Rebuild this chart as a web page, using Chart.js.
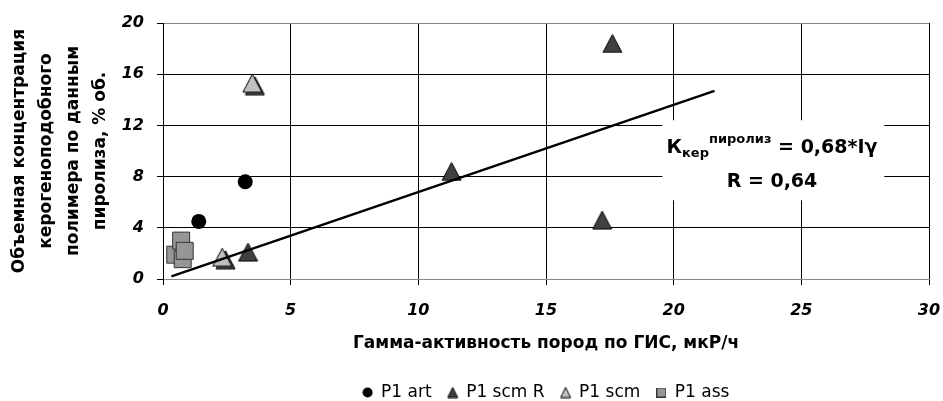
<!DOCTYPE html>
<html lang="ru">
<head>
<meta charset="UTF-8">
<title>Кероген и гамма-активность</title>
<style>
  body { margin: 0; background: #fff; }
  .wrap { width: 943px; height: 401px; }
</style>
<script src="https://cdn.jsdelivr.net/npm/chart.js"></script>
</head>
<body>
<div class="wrap"><canvas id="chart"></canvas></div>
<script>
// values
const seriesNames = ['P1 art', 'P1 scm R', 'P1 scm', 'P1 ass'];
const artX = [1.40, 3.22];
const artY = [4.5, 7.6];
const scmRX = [17.6, 11.3, 17.2, 3.33, 3.6, 2.45];
const scmRY = [18.4, 8.4, 4.6, 2.1, 15.1, 1.5];
const scmX = [3.5, 2.32];
const scmY = [15.3, 1.7];
const assX = [0.48, 0.71, 0.77, 0.85];
const assY = [1.9, 3.0, 1.55, 2.2];
const trendX = [0.33, 21.6];
const trendY = [0.2, 14.7];
const xTicks = [0, 5, 10, 15, 20, 25, 30];
const yTicks = [0, 4, 8, 12, 16, 20];

const FONT = 'DejaVu Sans';
const pts = (xs, ys) => xs.map((x, i) => ({ x: x, y: ys[i] }));

// excel-like markers, centred on their bounding box
function triangle(w, h, fill) {
    const c = document.createElement('canvas');
    c.width = w + 2; c.height = h + 2;
    const g = c.getContext('2d');
    g.beginPath();
    g.moveTo(c.width / 2, 1);
    g.lineTo(w + 1, h + 1);
    g.lineTo(1, h + 1);
    g.closePath();
    g.fillStyle = fill; g.fill();
    g.strokeStyle = '#000'; g.lineWidth = 1; g.stroke();
    return c;
}
function square(s, fill, stroke) {
    const c = document.createElement('canvas');
    c.width = s + 1; c.height = s + 1;
    const g = c.getContext('2d');
    g.fillStyle = fill; g.fillRect(0.5, 0.5, s, s);
    g.strokeStyle = stroke; g.lineWidth = 1; g.strokeRect(0.5, 0.5, s, s);
    return c;
}
function dot(d, fill) {
    const c = document.createElement('canvas');
    c.width = d + 1; c.height = d + 1;
    const g = c.getContext('2d');
    g.beginPath(); g.arc(c.width / 2, c.height / 2, d / 2, 0, Math.PI * 2);
    g.fillStyle = fill; g.fill();
    return c;
}

const darkTri = triangle(19, 18, '#404040');
const lightTri = triangle(19, 18, '#c0c0c0');
const legendMarks = [dot(10, '#000'), triangle(10, 10, '#404040'), triangle(10, 10, '#c0c0c0'), square(9, '#969696', '#333')];

// formula label with white background
const formulaBox = {
    id: 'formulaBox',
    afterDatasetsDraw(chart) {
        const { ctx, scales: { x, y } } = chart;
        const l = x.getPixelForValue(19.56), r = x.getPixelForValue(28.25);
        const t = y.getPixelForValue(12.4), b = y.getPixelForValue(6.15);
        ctx.save();
        ctx.fillStyle = '#fff';
        ctx.fillRect(l, t, r - l, b - t);
        ctx.fillStyle = '#000';
        ctx.textBaseline = 'alphabetic';
        const cx = x.getPixelForValue(23.85);
        const parts = [
            { t: 'К', s: 19, dy: 0 },
            { t: 'кер', s: 13, dy: 4 },
            { t: 'пиролиз', s: 13, dy: -10 },
            { t: ' = 0,68*Iγ', s: 19, dy: 0 }
        ];
        let total = 0;
        parts.forEach(p => { ctx.font = 'bold ' + p.s + 'px "' + FONT + '"'; p.w = ctx.measureText(p.t).width; total += p.w; });
        let px = cx - total / 2;
        const base1 = y.getPixelForValue(9.82);
        ctx.textAlign = 'left';
        parts.forEach(p => { ctx.font = 'bold ' + p.s + 'px "' + FONT + '"'; ctx.fillText(p.t, px, base1 + p.dy); px += p.w; });
        ctx.font = 'bold 19px "' + FONT + '"';
        ctx.textAlign = 'center';
        ctx.fillText('R = 0,64', cx, y.getPixelForValue(7.16));
        ctx.restore();
    }
};

const tickFont = { family: FONT, size: 16, weight: 'bold', style: 'italic' };

new Chart(document.getElementById('chart'), {
    type: 'scatter',
    data: {
        datasets: [
            { label: seriesNames[0], data: pts(artX, artY), pointStyle: 'circle', pointRadius: 7.5, pointHoverRadius: 7.5,
              backgroundColor: '#000', borderColor: '#000', borderWidth: 0, order: 1 },
            { label: seriesNames[1], data: pts(scmRX, scmRY), pointStyle: darkTri, order: 3 },
            { label: seriesNames[2], data: pts(scmX, scmY), pointStyle: lightTri, order: 2 },
            { label: seriesNames[3], data: pts(assX, assY), pointStyle: 'rect', pointRadius: 12, pointHoverRadius: 12,
              backgroundColor: '#969696', borderColor: '#333', borderWidth: 1, order: 2 },
            { type: 'line', label: 'trend', data: pts(trendX, trendY), borderColor: '#000', borderWidth: 2.5,
              pointRadius: 0, fill: false, order: 0 }
        ]
    },
    options: {
        responsive: true,
        maintainAspectRatio: false,
        animation: false,
        layout: { padding: { left: 0, top: 23, right: 0, bottom: -10 } },
        plugins: {
            tooltip: { enabled: false },
            legend: {
                position: 'bottom',
                fullSize: false,
                labels: {
                    usePointStyle: true,
                    boxWidth: 10,
                    boxHeight: 10,
                    padding: 16,
                    color: '#000',
                    font: { family: FONT, size: 17 },
                    generateLabels: () => seriesNames.map((name, i) => ({
                        text: name, pointStyle: legendMarks[i], fillStyle: '#000', strokeStyle: '#000',
                        lineWidth: 0, hidden: false, datasetIndex: i, fontColor: '#000'
                    }))
                }
            }
        },
        scales: {
            x: {
                type: 'linear', min: 0, max: 30,
                afterBuildTicks: s => { s.ticks = xTicks.map(v => ({ value: v })); },
                afterFit: s => { s.height = 89; s.paddingRight = 14; },
                grid: { color: '#000', tickColor: '#000', tickLength: 6 },
                border: { color: '#888' },
                ticks: { color: '#000', font: tickFont, padding: 16 },
                title: {
                    display: true, text: 'Гамма-активность пород по ГИС, мкР/ч', color: '#000',
                    font: { family: FONT, size: 17, weight: 'bold' }, padding: { top: 0, bottom: 14 }
                }
            },
            y: {
                type: 'linear', min: 0, max: 20,
                afterBuildTicks: s => { s.ticks = yTicks.map(v => ({ value: v })); },
                afterFit: s => { s.width = 163; },
                grid: {
                    color: c => (c.tick && (c.tick.value === 0 || c.tick.value === 20)) ? '#888' : '#000',
                    tickColor: '#000', tickLength: 6
                },
                border: { color: '#000' },
                ticks: { color: '#000', font: tickFont, padding: 13 },
                title: {
                    display: true,
                    text: ['Объемная концентрация', 'керогеноподобного', 'полимера по данным', 'пиролиза, % об.'],
                    color: '#000',
                    font: { family: FONT, size: 17, weight: 'bold', lineHeight: 1.59 },
                    padding: { top: 6, bottom: 0 }
                }
            }
        }
    },
    plugins: [formulaBox]
});
</script>
</body>
</html>
